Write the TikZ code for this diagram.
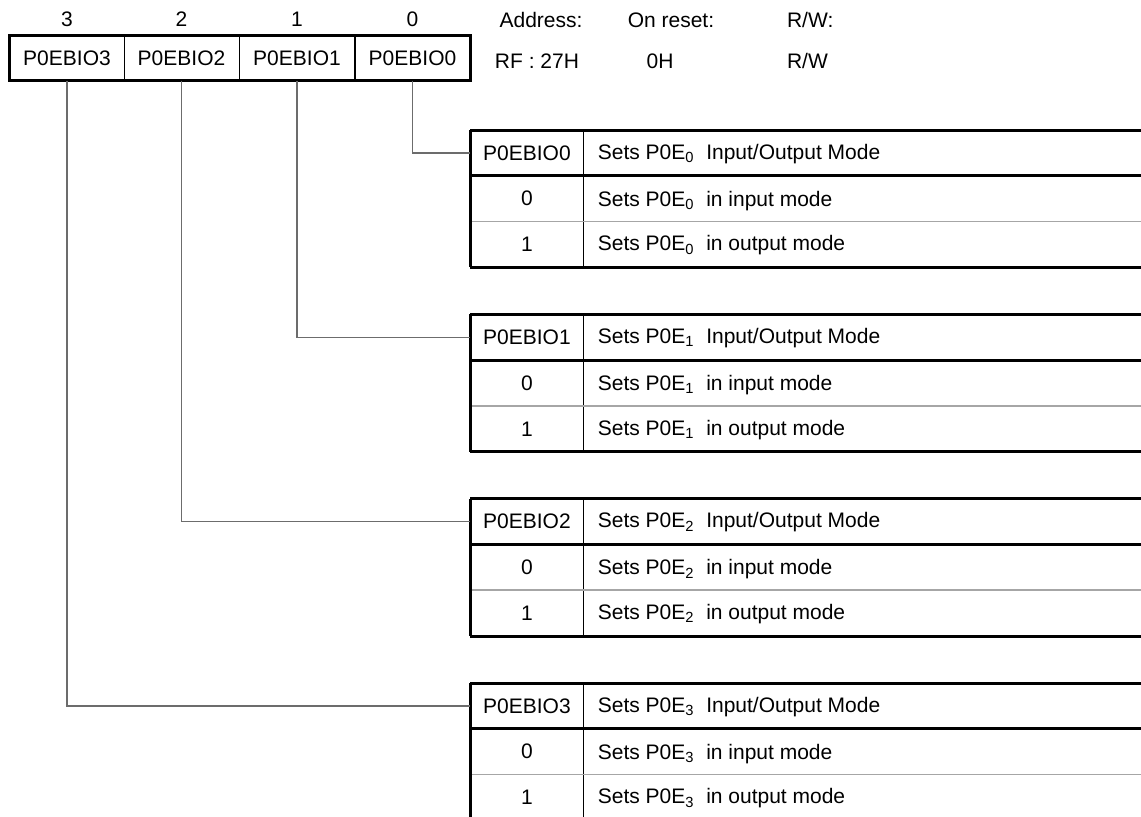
\documentclass[tikz,border=0pt]{standalone}
\usepackage{fontspec}
\setmainfont{Liberation Sans}
\usepackage{tikz}

\begin{document}
\begin{tikzpicture}
[x=0.5pt,y=-0.5pt,font=\fontsize{10.5}{12}\selectfont,
 cell/.style={draw,line width=0.5pt,minimum width=57.5pt,minimum height=22pt,inner sep=0pt},
 key/.style={minimum width=56.5pt,minimum height=22.5pt,inner sep=0pt,anchor=north west},
 rule/.style={line width=1.5pt},
 thinrule/.style={line width=0.75pt,gray!70},
 leader/.style={line width=0.6pt,gray!85!black}]
\useasboundingbox (0,0) rectangle (1141,816);
% register
\node[cell] (r3) at (67,58) {P0EBIO3};
\node[cell] (r2) at (181.5,58) {P0EBIO2};
\node[cell] (r1) at (297,58) {P0EBIO1};
\node[cell] (r0) at (412.5,58) {P0EBIO0};
\draw[rule] (r3.north west) rectangle (r0.south east);
\node (n3) at (67,19) {3};
\node (n2) at (181.5,19) {2};
\node (n1) at (297,19) {1};
\node (n0) at (412.5,19) {0};
\node (a1) at (541,20) {Address:};
\node (a2) at (671,20) {On reset:};
\node[anchor=west] (a3) at (780,20) {R/W:};
\node (v1) at (537,61) {RF : 27H};
\node (v2) at (660,61) {0H};
\node[anchor=west] (v3) at (780,61) {R/W};
% tables
\foreach \b/\y in {0/130,1/314.3,2/498.6,3/683}
{
\node[key] (h\b) at (470,\y) {P0EBIO\b};
\node[key] (k\b) at (h\b.south west) {0};
\node[key] (m\b) at (k\b.south west) {1};
\node[anchor=west] (th\b) at ([xshift=3.5pt,yshift=-0.5pt]h\b.east) {Sets P0E\textsubscript{\b}\ \ Input/Output Mode};
\node[anchor=west] (tk\b) at ([xshift=3.5pt,yshift=-1pt]k\b.east) {Sets P0E\textsubscript{\b}\ \ in input mode};
\node[anchor=west] (tm\b) at ([xshift=3.5pt,yshift=-0.5pt]m\b.east) {Sets P0E\textsubscript{\b}\ \ in output mode};
\draw[line width=0.5pt] (h\b.north east) -- (m\b.south east);
\draw[thinrule] (k\b.south west) -- ++(680,0);
\draw[rule] (h\b.south west) -- ++(680,0);
\draw[rule] (h\b.north west) -- ++(680,0);
\draw[rule] (m\b.south west) -- ++(680,0);
\draw[rule] (h\b.north west) -- (m\b.south west);
\draw[leader] (r\b.south) |- (h\b.west);
}
\end{tikzpicture}
\end{document}
